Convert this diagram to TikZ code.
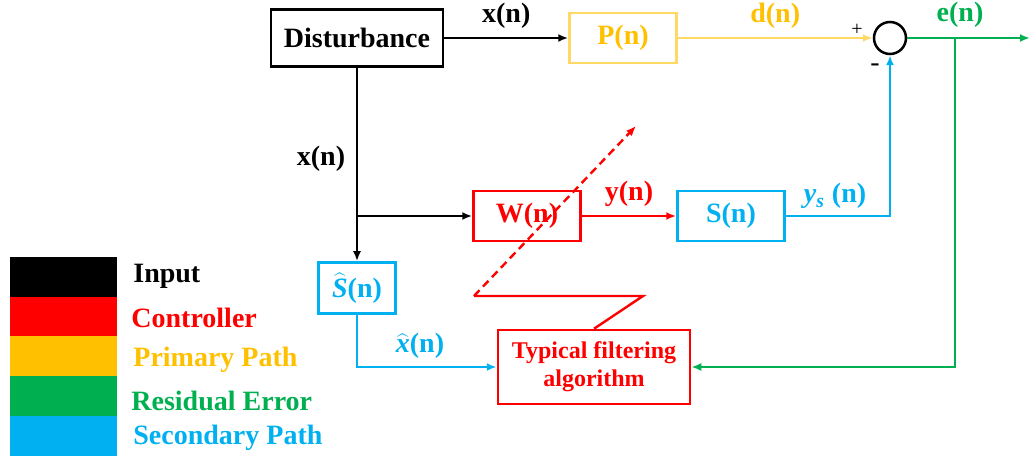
\documentclass[tikz,border=0pt]{standalone}
\usepackage{fontspec}
\setmainfont{Liberation Serif}
\usetikzlibrary{arrows.meta,positioning,calc}
\definecolor{ctrlred}{HTML}{FF0000}
\definecolor{primyellow}{HTML}{FFC000}
\definecolor{primlight}{HTML}{FFD966}
\definecolor{errgreen}{HTML}{00B050}
\definecolor{secblue}{HTML}{00B0F0}
\newcommand{\bi}[1]{\textbf{\textit{#1}}}

\begin{document}
\begin{tikzpicture}[
  x=0.5pt, y=-0.5pt,
  font=\fontsize{14}{16}\selectfont\bfseries,
  box/.style={draw, line width=1.25pt, align=center, inner sep=2pt, minimum width=53.5pt, minimum height=25pt},
  arr/.style={-{Latex[length=5pt,width=4pt]}, line width=1.2pt},
  swatch/.style={minimum width=53.5pt, minimum height=20pt, inner sep=0pt, outer sep=0pt},
  key/.style={anchor=west, inner sep=0pt}
]
\useasboundingbox (0,0) rectangle (1030,460);

% blocks
\node[box, minimum width=86pt, minimum height=28.5pt] (dist) at (357,38) {Disturbance};
\node[box, draw=primlight, text=primyellow] (P) at (623,38) {P(n)};
\node[draw, circle, line width=1.25pt, minimum size=16pt, inner sep=0pt] (sum) at (890,38) {};
\node[box, draw=ctrlred, text=ctrlred] (W) at (527,216) {W(n)};
\node[box, draw=secblue, text=secblue] (S) at (731,216) {S(n)};
\node[box, draw=secblue, text=secblue, minimum width=38.5pt, minimum height=25.5pt] (Shat) at (357,288) {$\widehat{\mbox{\bi{S}}}$(n)};
\node[box, draw=ctrlred, text=ctrlred, minimum width=96pt, minimum height=37pt, font=\fontsize{12}{14}\selectfont\bfseries] (alg) at (594,367) {Typical filtering\\algorithm};

\coordinate (xtap) at (357,216);
\coordinate (etap) at (955,38);
\coordinate (eout) at (1030,38);
\coordinate (adpA) at (474,296);
\coordinate (adpB) at (636,126);
\coordinate (adpC) at (643,296);

% signals
\draw[arr] (dist.east) -- node[above=1pt] {x(n)} (P.west);
\draw[arr, primlight] (P.east) -- node[above=1pt, text=primyellow] {d(n)} (sum.west);
\draw[arr, errgreen] (sum.east) -- (eout);
\draw[arr, errgreen] (etap) |- (alg.east);
\draw[arr] (dist.south) -- node[left=2pt, pos=0.47] {x(n)} (Shat.north);
\draw[arr] (xtap) -- (W.west);
\draw[arr, ctrlred] (W.east) -- node[above=1pt] {y(n)} (S.west);
\draw[arr, secblue] (S.east) -| (sum.south);
\draw[arr, secblue] (Shat.south) |- (alg.west);
\draw[arr, ctrlred, dash pattern=on 4pt off 2.5pt] (adpA) -- (adpB);
\draw[ctrlred, line width=1.2pt] (adpA) -- (adpC) -- (alg.north);

% labels
\node[text=errgreen] (elbl) at (960,15) {e(n)};
\node[text=secblue] (yslbl) at (835,196) {\bi{y}\textsubscript{\bi{s}} (n)};
\node[text=secblue] (xhlbl) at (420,346) {$\widehat{\mbox{\bi{x}}}$(n)};
\node[font=\fontsize{10}{12}\selectfont] (plus) at (857,30) {+};
\node[font=\fontsize{14}{12}\selectfont] (minus) at (875,68) {-};

% legend
\node[swatch, fill=black] (kin) at (63.5,277) {};
\node[swatch, fill=ctrlred] (kctrl) at (63.5,317) {};
\node[swatch, fill=primyellow] (kprim) at (63.5,356.5) {};
\node[swatch, fill=errgreen] (kerr) at (63.5,396) {};
\node[swatch, fill=secblue] (ksec) at (63.5,436) {};
\node[key] (tin) at (133,276) {Input};
\node[key, text=ctrlred] (tctrl) at (131,318) {Controller};
\node[key, text=primyellow] (tprim) at (133,360) {Primary Path};
\node[key, text=errgreen] (terr) at (131,401) {Residual Error};
\node[key, text=secblue] (tsec) at (133,438) {Secondary Path};
\end{tikzpicture}
\end{document}
